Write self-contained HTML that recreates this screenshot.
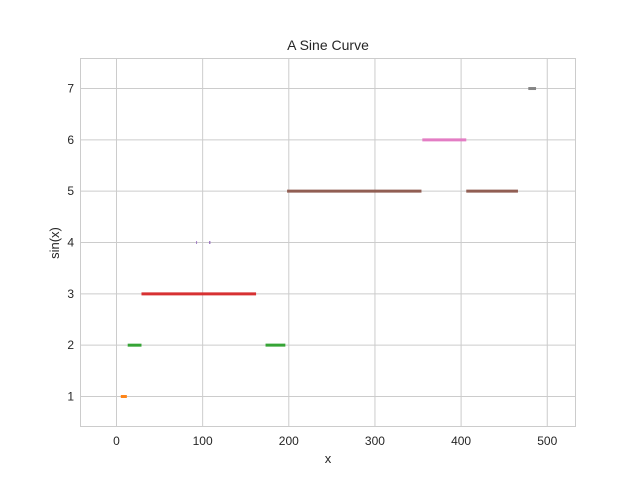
<!DOCTYPE html>
<html><head><meta charset="utf-8"><style>body{margin:0;background:#fff}svg{display:block;font-family:"Liberation Sans",sans-serif}</style></head>
<body>
<svg id="c" width="640" height="480"></svg>
<script>
const segLevels=[1,2,2,3,4,4,5,5,6,7];
const segStarts=[5,13,173,29,92.5,107.5,198,406,355,478];
const segEnds=[12,29,196,162,93.5,109,354,466,406,487];
const segColors=['#ff7f0e','#2ca02c','#2ca02c','#d62728','#9467bd','#9467bd','#8c564b','#8c564b','#e377c2','#7f7f7f'];
const xTicks=[0,100,200,300,400,500];
const yTicks=[1,2,3,4,5,6,7];
const L=80,R=576,T=58,B=427;
const xs=v=>116.5+v*0.8615;
const ys=v=>396.5-(v-1)*51.33;
const svg=document.getElementById('c');
const NS='http://www.w3.org/2000/svg';
function mk(t,a,txt){const e=document.createElementNS(NS,t);for(const k in a)e.setAttribute(k,a[k]);if(txt!==undefined)e.textContent=txt;svg.appendChild(e);return e;}
xTicks.forEach(v=>{
 const g=mk('line',{x1:xs(v),x2:xs(v),y1:T,y2:B,stroke:'#cccccc','stroke-width':1});
 
 
 const t=mk('text',{x:xs(v),y:B+18,'text-anchor':'middle','font-size':12,fill:'#262626'},v);
 
 
});
yTicks.forEach(v=>{
 const g=mk('line',{x1:L,x2:R,y1:ys(v),y2:ys(v),stroke:'#cccccc','stroke-width':1});
 
 
 const t=mk('text',{x:L-6,y:ys(v)+4,'text-anchor':'end','font-size':12,fill:'#262626'},v);
 
 
});
const fr=mk('rect',{x:L+0.5,y:T+0.5,width:R-L-1,height:B-T-1,fill:'none',stroke:'#cccccc','stroke-width':1});


segLevels.forEach((lv,i)=>{
 const s=mk('line',{x1:xs(segStarts[i]),x2:xs(segEnds[i]),y1:ys(lv),y2:ys(lv),stroke:segColors[i],'stroke-width':3,'stroke-opacity':0.95});
 
 
});
const ti=mk('text',{x:328,y:50,'text-anchor':'middle','font-size':14,fill:'#262626'},'A Sine Curve');


const xl=mk('text',{x:328,y:463,'text-anchor':'middle','font-size':13,fill:'#262626'},'x');


const yl=mk('text',{x:59,y:243,'text-anchor':'middle','font-size':13,fill:'#262626',transform:'rotate(-90 59 243)'},'sin(x)');


</script>
</body></html>
